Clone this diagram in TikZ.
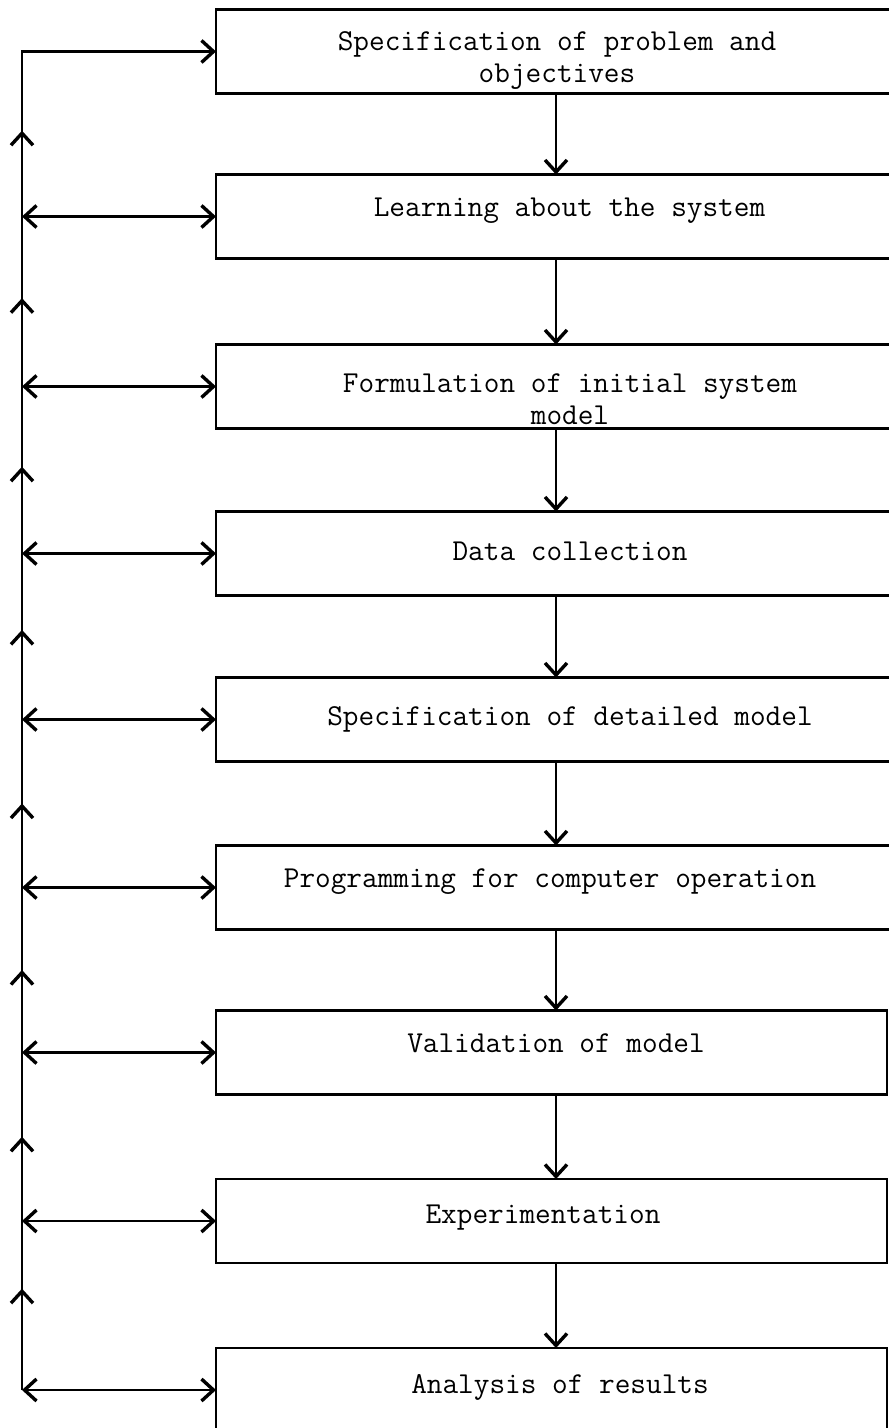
\documentclass[tikz,border=0pt]{standalone}
\usetikzlibrary{arrows.meta,calc}

\begin{document}
\begin{tikzpicture}[
    x=0.5pt, y=-0.5pt,
    openv/.tip={Straight Barb[length=6pt,width=11pt,line width=1.7pt]},
    link/.style={line width=1.1pt},
    stage/.style={rectangle, draw=black, line width=1.1pt,
      minimum width=335.5pt, minimum height=42pt,
      inner sep=0pt, outer sep=0pt},
    widestage/.style={stage, minimum width=338pt},
    caption/.style={font=\ttfamily\fontsize{15.2}{16}\selectfont,
      inner sep=0pt}
  ]
  \useasboundingbox (0,0) rectangle (888,1428);

  % the nine stages (the upper ones run off the right edge)
  \path (554,51.5) node(b1)[widestage]{}
    (554,216.5) node(b2)[widestage]{}
    (554,386.5) node(b3)[widestage]{}
    (554,553.5) node(b4)[widestage]{}
    (554,719.5) node(b5)[widestage]{}
    (554,887.5) node(b6)[widestage]{}
    (551.5,1052.5) node(b7)[stage]{}
    (551.5,1221) node(b8)[stage]{}
    (551.5,1390) node(b9)[stage]{};

  % stage texts
  \path (557,31.4) node(t1)[caption, anchor=north, align=center]{
      Specification of problem and\\objectives}
    (569.5,217) node(t2)[caption, anchor=base]{Learning about the system}
    (570,373.4) node(t3)[caption, anchor=north, align=center]{
      Formulation of initial system\\model}
    (570,560) node(t4)[caption, anchor=base]{Data collection}
    (570,725) node(t5)[caption, anchor=base]{Specification of detailed model}
    (550,887) node(t6)[caption, anchor=base]{Programming for computer operation}
    (556,1052) node(t7)[caption, anchor=base]{Validation of model}
    (543,1223) node(t8)[caption, anchor=base]{Experimentation}
    (560,1393) node(t9)[caption, anchor=base]{Analysis of results};

  % downward flow
  \coordinate (spine) at (556,0);
  \draw[link,-openv] (b1.south -| spine) -- (b2.north -| spine);
  \draw[link,-openv] (b2.south -| spine) -- (b3.north -| spine);
  \draw[link,-openv] (b3.south -| spine) -- (b4.north -| spine);
  \draw[link,-openv] (b4.south -| spine) -- (b5.north -| spine);
  \draw[link,-openv] (b5.south -| spine) -- (b6.north -| spine);
  \draw[link,-openv] (b6.south -| spine) -- (b7.north -| spine);
  \draw[link,-openv] (b7.south -| spine) -- (b8.north -| spine);
  \draw[link,-openv] (b8.south -| spine) -- (b9.north -| spine);

  % feedback rail on the left
  \coordinate (rail) at (22,0);
  \path (rail |- b1.west) coordinate (r1)
    (rail |- b2.west) coordinate (r2)
    (rail |- b3.west) coordinate (r3)
    (rail |- b4.west) coordinate (r4)
    (rail |- b5.west) coordinate (r5)
    (rail |- b6.west) coordinate (r6)
    (rail |- b7.west) coordinate (r7)
    (rail |- b8.west) coordinate (r8)
    (rail |- b9.west) coordinate (r9);

  \draw[link,-openv] (r9) -- (r1) -- (b1.west);
  \draw[link,openv-openv] (r2) -- (b2.west);
  \draw[link,openv-openv] (r3) -- (b3.west);
  \draw[link,openv-openv] (r4) -- (b4.west);
  \draw[link,openv-openv] (r5) -- (b5.west);
  \draw[link,openv-openv] (r6) -- (b6.west);
  \draw[link,openv-openv] (r7) -- (b7.west);
  \draw[link,openv-openv] (r8) -- (b8.west);
  \draw[link,openv-openv] (r9) -- (b9.west);

  % upward heads on the rail
  \draw[link,-openv] (r2) -- ($(r2)!.52!(r1)$);
  \draw[link,-openv] (r3) -- ($(r3)!.52!(r2)$);
  \draw[link,-openv] (r4) -- ($(r4)!.52!(r3)$);
  \draw[link,-openv] (r5) -- ($(r5)!.54!(r4)$);
  \draw[link,-openv] (r6) -- ($(r6)!.50!(r5)$);
  \draw[link,-openv] (r7) -- ($(r7)!.50!(r6)$);
  \draw[link,-openv] (r8) -- ($(r8)!.50!(r7)$);
  \draw[link,-openv] (r9) -- ($(r9)!.60!(r8)$);
\end{tikzpicture}
\end{document}
